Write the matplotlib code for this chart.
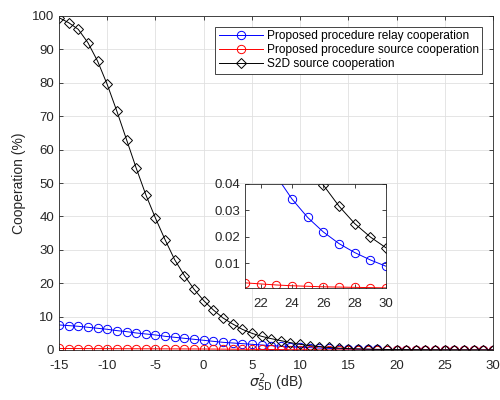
import numpy as np
import matplotlib
matplotlib.use("Agg")
import matplotlib.pyplot as plt

plt.rcParams["font.family"] = ["Liberation Sans", "DejaVu Sans"]
plt.rcParams["mathtext.fontset"] = "dejavusans"
plt.rcParams["axes.unicode_minus"] = False

# ------------------------------------------------------------
# data
# ------------------------------------------------------------
snr_db = np.arange(-15, 31)

relay_coop = [7.5, 7.3, 7.1, 6.8, 6.5, 6.2, 5.8, 5.5, 5.1, 4.8,
              4.5, 4.1, 3.8, 3.5, 3.2, 2.9, 2.6, 2.3, 2.1, 1.9,
              1.7, 1.5, 1.3, 1.15, 1.0, 0.85, 0.7, 0.58, 0.47, 0.38,
              0.3, 0.24, 0.19, 0.15, 0.115, 0.09, 0.07, 0.055, 0.043, 0.0343,
              0.0273, 0.0218, 0.0174, 0.014, 0.0112, 0.0088]

source_coop = [0.45, 0.44, 0.43, 0.42, 0.41, 0.40, 0.39, 0.38, 0.37, 0.36,
               0.35, 0.34, 0.33, 0.32, 0.31, 0.30, 0.28, 0.26, 0.24, 0.22,
               0.20, 0.17, 0.15, 0.12, 0.10, 0.08, 0.06, 0.045, 0.033, 0.024,
               0.017, 0.012, 0.008, 0.0055, 0.004, 0.0032, 0.0025, 0.0021, 0.0017, 0.0014,
               0.0012, 0.0010, 0.0009, 0.0008, 0.0007, 0.0006]

s2d_coop = [99.5, 98.0, 96.0, 92.0, 86.5, 79.5, 71.5, 63.0, 54.5, 46.5,
            39.5, 33.0, 27.0, 22.3, 18.2, 14.8, 12.0, 9.6, 7.8, 6.2,
            5.0, 4.1, 3.4, 2.8, 2.2, 1.7, 1.3, 1.0, 0.75, 0.55,
            0.42, 0.33, 0.26, 0.2, 0.16, 0.125, 0.1, 0.08, 0.065, 0.053,
            0.045, 0.0396, 0.0316, 0.025, 0.0199, 0.0158]

labels = ["Proposed procedure relay cooperation",
          "Proposed procedure source cooperation",
          "S2D source cooperation"]
colors = ["blue", "red", "black"]
markers = ["o", "o", "D"]
series = [relay_coop, source_coop, s2d_coop]

x_ticks = np.arange(-15, 31, 5)
y_ticks = np.arange(0, 101, 10)
inset_x_ticks = [22, 24, 26, 28, 30]
inset_y_ticks = [0.01, 0.02, 0.03, 0.04]

AX_COLOR = "#262626"


def style_axes(ax):
    for sp in ax.spines.values():
        sp.set_color(AX_COLOR)
        sp.set_linewidth(0.6)
    ax.tick_params(direction="in", top=True, right=True, length=3,
                   width=0.6, colors=AX_COLOR, labelsize=9.5, labelcolor=AX_COLOR)
    ax.tick_params(axis="x", pad=7)


def draw(ax, with_label=False):
    for vals, c, m, lab in zip(series, colors, markers, labels):
        ax.plot(snr_db, vals, color=c, marker=m, markersize=5.2 if m == "D" else 6,
                markerfacecolor="none", markeredgewidth=0.7, linewidth=0.7,
                label=lab if with_label else None)


# ------------------------------------------------------------
# main plot
# ------------------------------------------------------------
fig = plt.figure(figsize=(5, 4), dpi=100)
ax = fig.add_axes([0.118, 0.125, 0.868, 0.835])
draw(ax, with_label=True)

ax.set_xlim(-15, 30)
ax.set_ylim(0, 100)
ax.set_xticks(x_ticks)
ax.set_yticks(y_ticks)
ax.grid(True, color="#e0e0e0", linewidth=0.6)
ax.set_axisbelow(True)
style_axes(ax)
ax.set_xlabel(r"$\sigma^2_{\mathrm{SD}}$ (dB)", fontsize=10, color=AX_COLOR, labelpad=0)
ax.set_ylabel("Cooperation (%)", fontsize=10, color=AX_COLOR, labelpad=4)

leg = ax.legend(loc="upper right", fontsize=8.6, frameon=True, fancybox=False,
                borderpad=0.3, labelspacing=0.15, handlelength=3.7,
                handletextpad=0.3, borderaxespad=0.9, framealpha=1)
leg.get_frame().set_edgecolor(AX_COLOR)
leg.get_frame().set_linewidth(0.6)

# ------------------------------------------------------------
# inset (zoom on 21..30 dB)
# ------------------------------------------------------------
axin = fig.add_axes([0.49, 0.279, 0.282, 0.261])
draw(axin)
axin.set_xlim(21, 30)
axin.set_ylim(0.0004, 0.04)
axin.set_xticks(inset_x_ticks)
axin.set_yticks(inset_y_ticks)
axin.set_yticklabels(["0.01", "0.02", "0.03", "0.04"])
style_axes(axin)

fig.savefig("out.png", dpi=100)
